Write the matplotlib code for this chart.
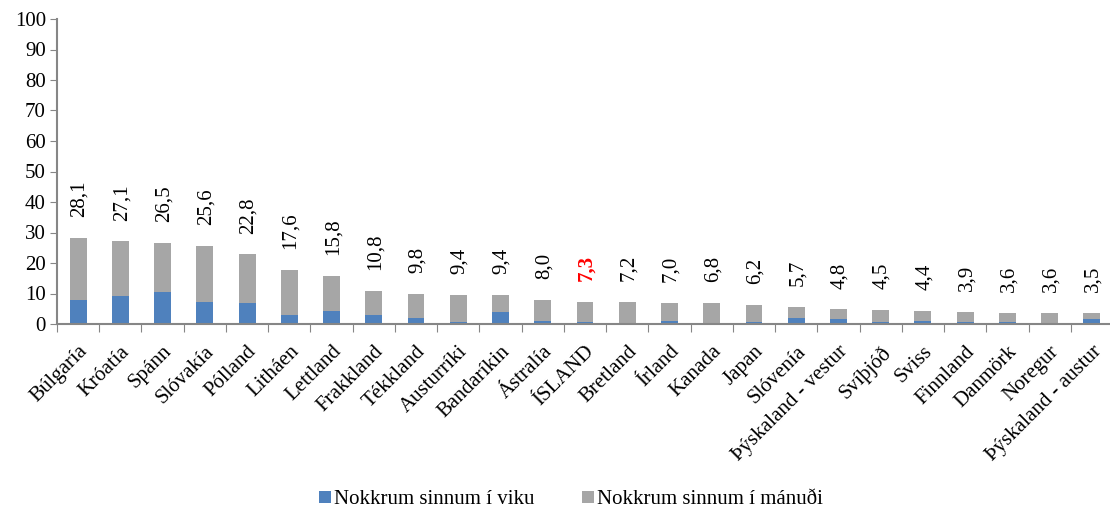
import numpy as np
import matplotlib
matplotlib.use('Agg')
import matplotlib.pyplot as plt

plt.rcParams['font.family'] = ['Liberation Serif', 'DejaVu Serif']

# countries, sorted by total
countries = ['Búlgaría', 'Króatía', 'Spánn', 'Slóvakía', 'Pólland', 'Litháen', 'Lettland',
             'Frakkland', 'Tékkland', 'Austurríki', 'Bandaríkin', 'Ástralía', 'ÍSLAND',
             'Bretland', 'Írland', 'Kanada', 'Japan', 'Slóvenía', 'Þýskaland - vestur',
             'Svíþjóð', 'Sviss', 'Finnland', 'Danmörk', 'Noregur', 'Þýskaland - austur']
weekly = [8.0, 9.2, 10.5, 7.1, 6.9, 2.8, 4.4, 2.9, 2.1, 0.7, 3.9, 1.1, 0.8,
          0.45, 1.1, 0.1, 0.7, 2.0, 1.7, 0.7, 0.9, 0.6, 0.8, 0.45, 1.5]
monthly = [20.1, 17.9, 16.0, 18.5, 15.9, 14.8, 11.4, 7.9, 7.7, 8.7, 5.5, 6.9, 6.5,
           6.75, 5.9, 6.7, 5.5, 3.7, 3.1, 3.8, 3.5, 3.3, 2.8, 3.15, 2.0]
totals = ['28,1', '27,1', '26,5', '25,6', '22,8', '17,6', '15,8', '10,8', '9,8', '9,4',
          '9,4', '8,0', '7,3', '7,2', '7,0', '6,8', '6,2', '5,7', '4,8', '4,5', '4,4',
          '3,9', '3,6', '3,6', '3,5']
highlight = 'ÍSLAND'

blue = '#4F81BD'
grey = '#A6A6A6'
axcol = '#868686'
fs = 15

fig = plt.figure(figsize=(11.1, 5.13), dpi=100)
ax = fig.add_axes([57/1110, 1 - 324/513, (1113 - 57)/1110, (324 - 19)/513])

x = np.arange(len(countries))
w = np.array(weekly)
m = np.array(monthly)
ax.bar(x, w, width=0.4, color=blue, label='Nokkrum sinnum í viku', zorder=2)
ax.bar(x, m, width=0.4, bottom=w, color=grey, label='Nokkrum sinnum í mánuði', zorder=2)

for i, lab in enumerate(totals):
    red = countries[i] == highlight
    ax.annotate(lab, (x[i], w[i] + m[i]), xytext=(1, 15), textcoords='offset points',
                rotation=90, ha='center', va='bottom', fontsize=fs,
                color='red' if red else 'black',
                fontweight='bold' if red else 'normal')

ax.set_xlim(-0.5, len(countries) - 0.5)
ax.set_ylim(0, 100)
ax.set_yticks(np.arange(0, 101, 10))
ax.tick_params(axis='y', labelsize=fs, length=5, color=axcol, direction='out', pad=3)

# ticks between categories, labels at centres
ax.set_xticks(x - 0.5, minor=False)
ax.set_xticklabels([])
ax.set_xticks(x, minor=True)
ax.set_xticklabels(countries, minor=True, rotation=45, ha='right',
                   rotation_mode='anchor', fontsize=fs)
ax.tick_params(axis='x', which='major', length=6, color=axcol, direction='out')
ax.tick_params(axis='x', which='minor', length=0, pad=13)

for s in ['top', 'right']:
    ax.spines[s].set_visible(False)
for s in ['left', 'bottom']:
    ax.spines[s].set_color(axcol)
    ax.spines[s].set_linewidth(1.5)

fig.legend(loc='center', bbox_to_anchor=(571/1110, 1 - 500/513), ncol=2, frameon=False,
           fontsize=fs, handlelength=0.55, handleheight=0.55, handletextpad=0.15,
           columnspacing=2.3)

fig.savefig('out.png', dpi=100)
